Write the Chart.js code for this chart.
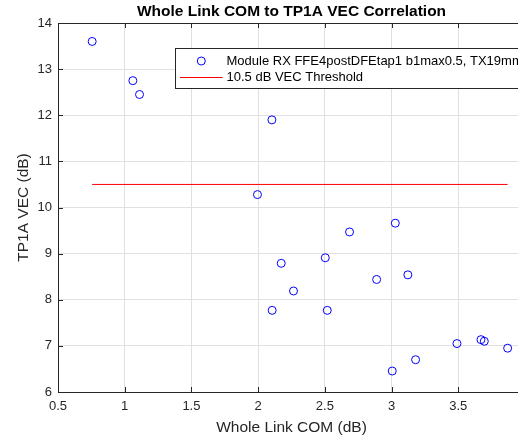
<!DOCTYPE html>
<html>
<head>
<meta charset="utf-8">
<script src="https://cdn.jsdelivr.net/npm/chart.js@4"></script>
<style>
  html, body { margin: 0; padding: 0; background: #fff; overflow: hidden; }
  canvas { display: block; }
</style>
</head>
<body>
<canvas id="myChart" width="580" height="439"></canvas>
<script>
// valores
const comX = [0.756, 1.061, 1.111, 2.103, 1.995, 3.028, 2.685, 2.173, 2.503, 3.122, 2.888, 2.265, 2.105, 2.518, 3.005, 3.18, 3.49, 3.67, 3.695, 3.87];
const vecY = [13.6, 12.75, 12.45, 11.9, 10.28, 9.66, 9.47, 8.79, 8.91, 8.54, 8.44, 8.19, 7.77, 7.77, 6.455, 6.70, 7.05, 7.135, 7.10, 6.95];
const vecThreshold = 10.5;
const xTicks = [0.5, 1, 1.5, 2, 2.5, 3, 3.5, 4];
const yTicks = [6, 7, 8, 9, 10, 11, 12, 13, 14];
const seriesLabels = ['Module RX FFE4postDFEtap1 b1max0.5, TX19mm', '10.5 dB VEC Threshold'];
const chartTitle = 'Whole Link COM to TP1A VEC Correlation';

const font = '"Liberation Sans", Arial, Helvetica, sans-serif';
const axisColor = '#262626';
const gridColor = '#e0e0e0';

const scatterPts = comX.map((x, i) => ({ x: x, y: vecY[i] }));
const thrPts = [
    { x: Math.min(...comX), y: vecThreshold },
    { x: Math.max(...comX), y: vecThreshold }
];

// titulo, legenda dentro dos eixos, borda de cima e ticks para dentro (estilo MATLAB)
const matlabBox = {
    id: 'matlabBox',
    afterDraw(chart) {
        const ctx = chart.ctx;
        const a = chart.chartArea;
        const xs = chart.scales.x, ys = chart.scales.y;
        ctx.save();

        ctx.fillStyle = '#000';
        ctx.font = 'bold 15.5px ' + font;
        ctx.textAlign = 'center';
        ctx.textBaseline = 'middle';
        ctx.fillText(chartTitle, (a.left + a.right) / 2, 11.5);

        ctx.strokeStyle = axisColor;
        ctx.lineWidth = 1;
        ctx.beginPath();
        ctx.moveTo(a.left, Math.round(a.top) + 0.5);
        ctx.lineTo(a.right, Math.round(a.top) + 0.5);
        xTicks.forEach(v => {
            const px = Math.round(xs.getPixelForValue(v)) + 0.5;
            ctx.moveTo(px, a.bottom); ctx.lineTo(px, a.bottom - 5);
            ctx.moveTo(px, a.top); ctx.lineTo(px, a.top + 5);
        });
        yTicks.forEach(v => {
            const py = Math.round(ys.getPixelForValue(v)) + 0.5;
            ctx.moveTo(a.left, py); ctx.lineTo(a.left + 5, py);
        });
        ctx.stroke();

        // caixa da legenda
        ctx.font = '13px ' + font;
        const textX = 226.5;
        const w = Math.max(...seriesLabels.map(t => ctx.measureText(t).width));
        const bx = 175.5, by = 48.5, bw = textX + w + 6 - bx, bh = 40;
        ctx.fillStyle = '#fff';
        ctx.fillRect(bx, by, bw, bh);
        ctx.strokeStyle = axisColor;
        ctx.strokeRect(bx, by, bw, bh);

        ctx.strokeStyle = '#0000ff';
        ctx.beginPath();
        ctx.arc(201.3, 61, 4, 0, Math.PI * 2);
        ctx.stroke();

        ctx.strokeStyle = '#ff0000';
        ctx.beginPath();
        ctx.moveTo(180, 77.5); ctx.lineTo(222.5, 77.5);
        ctx.stroke();

        ctx.fillStyle = '#000';
        ctx.textBaseline = 'middle';
        ctx.textAlign = 'left';
        ctx.fillText(seriesLabels[0], textX, 61.5);
        ctx.fillText(seriesLabels[1], textX, 77.8);
        ctx.restore();
    }
};

const ctx = document.getElementById('myChart').getContext('2d');
const myChart = new Chart(ctx, {
    type: 'scatter',
    data: {
        datasets: [{
            label: seriesLabels[0],
            data: scatterPts,
            pointStyle: 'circle',
            pointRadius: 4,
            pointHoverRadius: 4,
            borderWidth: 1,
            borderColor: '#0000ff',
            backgroundColor: 'rgba(0,0,0,0)'
        }, {
            type: 'line',
            label: seriesLabels[1],
            data: thrPts,
            borderColor: '#ff0000',
            borderWidth: 1,
            pointRadius: 0,
            fill: false
        }]
    },
    options: {
        responsive: false,
        animation: false,
        devicePixelRatio: 1,
        layout: { padding: { left: 0, right: 55, top: 23, bottom: 0 } },
        plugins: {
            legend: { display: false },
            tooltip: { enabled: false },
            title: { display: false }
        },
        scales: {
            x: {
                type: 'linear',
                min: 0.5,
                max: 4,
                afterBuildTicks: s => { s.ticks = xTicks.map(v => ({ value: v })); },
                afterFit: s => { s.height = 47; },
                ticks: {
                    autoSkip: false,
                    maxRotation: 0,
                    padding: 7,
                    color: axisColor,
                    font: { family: font, size: 13 },
                    callback: v => (v >= 4 ? '' : String(v))
                },
                grid: { color: gridColor, drawTicks: false },
                border: { color: axisColor },
                title: {
                    display: true,
                    text: 'Whole Link COM (dB)',
                    color: axisColor,
                    font: { family: font, size: 15.5 },
                    padding: { top: 0, bottom: 2 }
                }
            },
            y: {
                min: 6,
                max: 14,
                afterBuildTicks: s => { s.ticks = yTicks.map(v => ({ value: v })); },
                afterFit: s => { s.width = 58; },
                ticks: {
                    autoSkip: false,
                    padding: 6,
                    color: axisColor,
                    font: { family: font, size: 13 },
                    callback: v => String(v)
                },
                grid: { color: gridColor, drawTicks: false },
                border: { color: axisColor },
                title: {
                    display: true,
                    text: 'TP1A VEC (dB)',
                    color: axisColor,
                    font: { family: font, size: 15.5 },
                    padding: { top: 14, bottom: 0 }
                }
            }
        }
    },
    plugins: [matlabBox]
});
</script>
</body>
</html>
